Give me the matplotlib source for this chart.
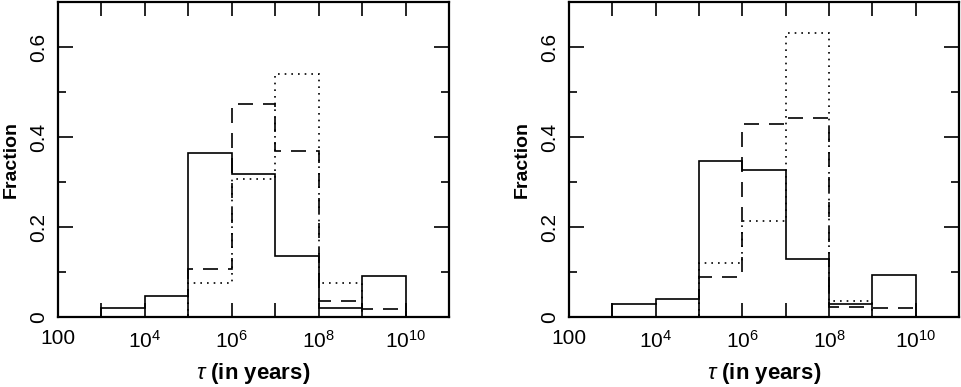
#!/usr/bin/env python3
import matplotlib
matplotlib.use('Agg')
import matplotlib.pyplot as plt
from matplotlib.ticker import FixedLocator, FuncFormatter
import numpy as np

plt.rcParams['font.family'] = ['Liberation Sans', 'DejaVu Sans']
plt.rcParams['mathtext.fontset'] = 'custom'
plt.rcParams['mathtext.rm'] = 'Liberation Sans'
plt.rcParams['mathtext.it'] = 'Liberation Sans:italic'

# bin edges: log10(tau) from 3 to 10
log_edges = [3, 4, 5, 6, 7, 8, 9, 10]

# left panel
left_solid = [0.021, 0.046, 0.364, 0.318, 0.136, 0.021, 0.091]
left_dashed = [0.0, 0.0, 0.106, 0.473, 0.369, 0.035, 0.018]
left_dotted = [0.0, 0.0, 0.076, 0.307, 0.539, 0.076, 0.0]

# right panel
right_solid = [0.029, 0.041, 0.347, 0.327, 0.129, 0.030, 0.094]
right_dashed = [0.0, 0.0, 0.088, 0.430, 0.443, 0.022, 0.019]
right_dotted = [0.0, 0.0, 0.120, 0.214, 0.632, 0.035, 0.0]

tick_decades = [2, 3, 4, 5, 6, 7, 8, 9, 10]


def fmt(x, pos):
    d = int(round(np.log10(x)))
    if d % 2:
        return ''
    if d == 2:
        return '100'
    return r'$10^{%d}$' % d


def draw(ax, solid, dashed, dotted):
    edges = 10.0 ** np.array(log_edges)
    ax.stairs(dotted, edges, color='k', lw=1.2, linestyle=(0, (1.0, 3.0)))
    ax.stairs(dashed, edges, color='k', lw=1.2, linestyle=(0, (9, 6)))
    ax.stairs(solid, edges, color='k', lw=1.2)
    ax.set_xscale('log')
    ax.set_xlim(1e2, 1e11)
    ax.set_ylim(0, 0.7)
    ax.xaxis.set_major_locator(FixedLocator([10.0 ** d for d in tick_decades]))
    ax.xaxis.set_minor_locator(FixedLocator([]))
    ax.xaxis.set_major_formatter(FuncFormatter(fmt))
    ax.set_yticks([0, 0.2, 0.4, 0.6])
    ax.set_yticklabels(['0', '0.2', '0.4', '0.6'], rotation=90, va='center')
    ax.set_yticks([0.1, 0.3, 0.5], minor=True)
    ax.tick_params(which='both', direction='in', top=True, right=True,
                   labelsize=15, width=1.2, color='k')
    ax.tick_params(which='major', length=11, pad=7)
    ax.tick_params(which='minor', length=6)
    ax.tick_params(axis='x', which='major', length=10, pad=9)
    for s in ax.spines.values():
        s.set_linewidth(1.6)
    ax.set_ylabel('Fraction', fontsize=14, fontweight='bold', labelpad=7)
    ax.set_xlabel(r'$\tau$ (in years)', fontsize=16, fontweight='bold', labelpad=7)


fig = plt.figure(figsize=(9.61, 3.87), dpi=100)
ax1 = fig.add_axes([58 / 961, 1 - 317 / 387, 391 / 961, 315 / 387])
ax2 = fig.add_axes([569 / 961, 1 - 317 / 387, 390 / 961, 315 / 387])
draw(ax1, left_solid, left_dashed, left_dotted)
draw(ax2, right_solid, right_dashed, right_dotted)

fig.savefig('out.png', dpi=100)
